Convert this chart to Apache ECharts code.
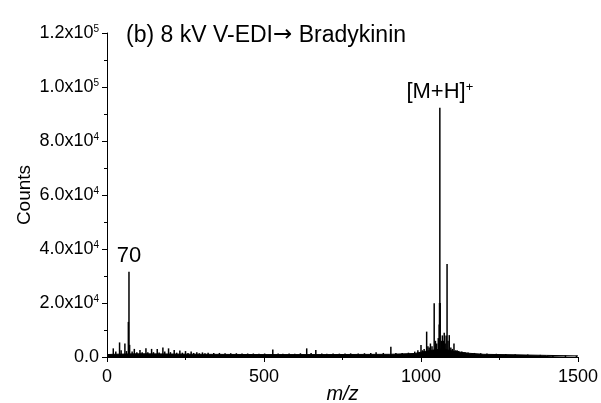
<!DOCTYPE html>
<html>
<head>
<meta charset="utf-8">
<script src="https://cdn.jsdelivr.net/npm/echarts@6/dist/echarts.min.js"></script>
<style>
  html, body { margin: 0; padding: 0; background: #fff; }
  #chart { width: 601px; height: 403px; }
</style>
</head>
<body>
<div id="chart"></div>
<script>
// peaks: [m/z, counts]
const peaks = [
  [20, 3200], [28, 2000], [40, 5400], [45, 2500], [57, 5000], [62, 2200], [68, 13000],
  [70, 31600], [72, 4500], [80, 2000], [87, 3000], [95, 1800], [105, 2600], [112, 1800],
  [124, 3200], [130, 1800], [142, 3000], [148, 1800], [160, 3000], [166, 1700], [178, 3500],
  [184, 2000], [196, 3200], [202, 1800], [214, 2600], [222, 1600], [232, 2400], [240, 1600],
  [250, 2200], [258, 1500], [268, 2000], [276, 1500], [286, 1800], [294, 1400], [304, 1700],
  [312, 1400], [322, 1600], [340, 1500], [358, 1500], [376, 1400], [394, 1400], [412, 1400],
  [430, 1300], [448, 1300], [466, 1300], [484, 1250], [502, 1300], [528, 2800], [545, 1300],
  [560, 1250], [580, 1300], [598, 1250], [616, 1400], [636, 3200], [650, 1500], [665, 2600],
  [684, 1300], [700, 1250], [720, 1300], [740, 1250], [758, 1300], [776, 1350], [800, 1300],
  [820, 1400], [840, 1500], [857, 1800], [880, 1500], [904, 3800], [920, 1500], [940, 1500],
  [960, 1600], [980, 2000], [990, 2500], [1000, 4400], [1005, 2500], [1010, 3000], [1018, 9400],
  [1022, 4000], [1026, 3500], [1030, 5000], [1035, 4000], [1042, 19900], [1046, 6000],
  [1050, 5000], [1055, 7000], [1058, 12000], [1059, 20000], [1060, 92300], [1061, 20000],
  [1065, 6000], [1068, 8000], [1071, 6000], [1074, 9000], [1077, 5000], [1080, 8000],
  [1083, 34400], [1086, 6000], [1090, 8100], [1095, 3500], [1100, 3000], [1105, 5000],
  [1110, 2500], [1115, 2500], [1120, 2200], [1130, 2000], [1140, 1800], [1150, 1700],
  [1170, 1500], [1190, 1400], [1210, 1300], [1240, 1200], [1270, 1100], [1300, 1000],
  [1340, 900], [1380, 800], [1420, 700], [1460, 600], [1495, 500]
]

// noise floor under the sticks
const noiseFloor = [
  [0, 900], [20, 1000], [100, 1200], [200, 1100], [300, 1000], [500, 900], [700, 900],
  [900, 1000], [980, 1300], [1000, 1800], [1040, 2600], [1070, 3000], [1100, 2200],
  [1150, 1400], [1200, 1000], [1300, 800], [1400, 600], [1500, 400]
]

const peakLabels = [
  { mz: 70, counts: 31600, text: '70' },
  { mz: 1060, counts: 92300, text: '[M+H]{sup|+}' }
]

const xTicks = { min: 0, max: 1500, step: 500 }
const yTicks = { min: 0, max: 120000, step: 20000 }

const font = 'Liberation Sans'

function sciLabel (v) {
  if (v === 0) return '0.0'
  const e = Math.floor(Math.log10(v))
  return (v / Math.pow(10, e)).toFixed(1) + 'x10{sup|' + e + '}'
}

const chart = echarts.init(document.getElementById('chart'), null, { renderer: 'canvas' })

chart.setOption({
  animation: false,
  backgroundColor: '#fff',
  title: {
    text: '(b) 8 kV V-EDI{arr|\u2192} Bradykinin',
    left: 121,
    top: 19,
    textStyle: {
      fontFamily: font,
      fontSize: 23,
      fontWeight: 'normal',
      color: '#000',
      rich: {
        arr: { fontFamily: 'DejaVu Sans', fontSize: 23, color: '#000' }
      }
    }
  },
  grid: { left: 107, right: 23, top: 33, bottom: 46, containLabel: false, outerBoundsMode: 'none' },
  xAxis: {
    type: 'value',
    min: xTicks.min,
    max: xTicks.max,
    interval: xTicks.step,
    name: 'm/z',
    nameLocation: 'middle',
    nameGap: 27,
    nameMoveOverlap: false,
    nameTextStyle: { fontFamily: font, fontSize: 20, fontStyle: 'italic', color: '#000' },
    axisLine: { show: true, lineStyle: { color: '#000', width: 1 } },
    axisTick: { show: true, inside: false, length: 5, lineStyle: { color: '#000' } },
    minorTick: { show: true, splitNumber: 2, length: 3, lineStyle: { color: '#000' } },
    axisLabel: { fontFamily: font, fontSize: 18, color: '#000', margin: 11, formatter: v => String(v) },
    splitLine: { show: false }
  },
  yAxis: {
    type: 'value',
    min: yTicks.min,
    max: yTicks.max,
    interval: yTicks.step,
    name: 'Counts',
    nameLocation: 'middle',
    nameRotate: 90,
    nameGap: 73,
    nameMoveOverlap: false,
    nameTextStyle: { fontFamily: font, fontSize: 19, color: '#000' },
    axisLine: { show: true, lineStyle: { color: '#000', width: 1 } },
    axisTick: { show: true, inside: false, length: 5, lineStyle: { color: '#000' } },
    minorTick: { show: true, splitNumber: 2, length: 3, lineStyle: { color: '#000' } },
    axisLabel: {
      fontFamily: font,
      fontSize: 18,
      color: '#000',
      margin: 8,
      formatter: sciLabel,
      rich: {
        sup: { fontFamily: font, fontSize: 10, verticalAlign: 'top', color: '#000' }
      }
    },
    splitLine: { show: false }
  },
  series: [
    {
      type: 'line',
      data: noiseFloor,
      symbol: 'none',
      lineStyle: { color: '#000', width: 1 },
      areaStyle: { color: '#000', opacity: 1 },
      silent: true
    },
    {
      type: 'bar',
      data: peaks,
      barWidth: 1.5,
      itemStyle: { color: '#000' },
      silent: true
    },
    {
      type: 'scatter',
      data: peakLabels.map(p => ({ value: [p.mz, p.counts], name: p.text })),
      symbolSize: 0,
      itemStyle: { opacity: 1 },
      label: {
        show: true,
        position: 'top',
        distance: 5,
        formatter: p => p.name,
        fontFamily: font,
        fontSize: 22,
        color: '#000',
        rich: {
          sup: { fontFamily: font, fontSize: 13, verticalAlign: 'top', color: '#000' }
        }
      },
      silent: true
    }
  ]
})
</script>
</body>
</html>
